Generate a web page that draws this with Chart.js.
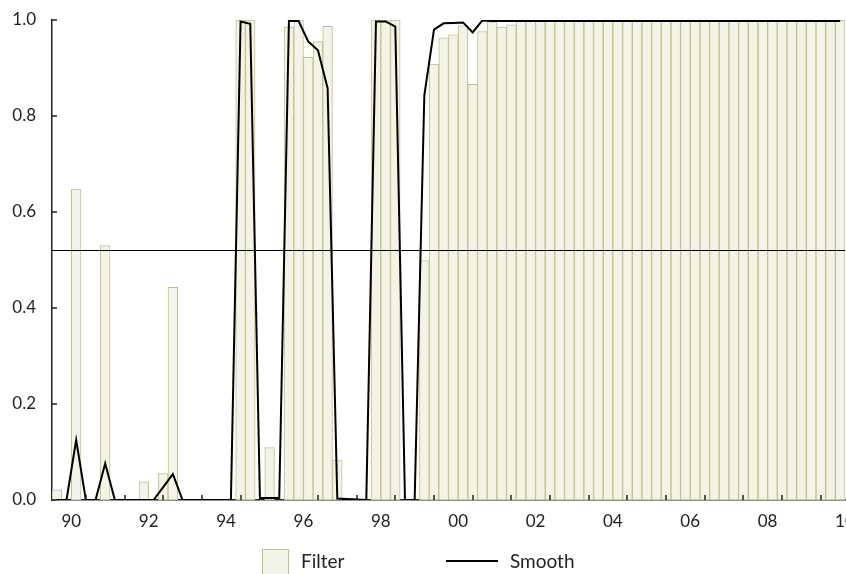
<!DOCTYPE html>
<html>
<head>
<meta charset="utf-8">
<script src="https://cdn.jsdelivr.net/npm/chart.js@4.4.1/dist/chart.umd.min.js"></script>
<style>
  html, body { margin: 0; padding: 0; background: #fff; }
  #wrap { width: 846px; height: 574px; }
</style>
</head>
<body>
<div id="wrap"><canvas id="chart"></canvas></div>
<script>
// quarterly observations 1990Q1 .. 2010Q2
const startYear = 1990;
const quarterCount = 82;
const yearLabels = ["90", "92", "94", "96", "98", "00", "02", "04", "06", "08", "10"];
const yTicks = [0, 0.2, 0.4, 0.6, 0.8, 1.0];
const threshold = 0.52;

const filterValues = [
  0.021, 0, 0.648, 0, 0, 0.53, 0, 0,
  0, 0.038, 0, 0.055, 0.443, 0, 0, 0,
  0, 0, 0, 1.0, 1.0, 0, 0.109, 0,
  0.985, 1.0, 0.922, 0.955, 0.987, 0.083, 0, 0,
  0, 1.0, 1.0, 1.0, 0, 0, 0.499, 0.908,
  0.963, 0.969, 0.988, 0.866, 0.976, 0.996, 0.985, 0.990,
  1.0, 1.0, 1.0, 1.0, 1.0, 1.0, 1.0, 1.0,
  1.0, 1.0, 1.0, 1.0, 1.0, 1.0, 1.0, 1.0,
  1.0, 1.0, 1.0, 1.0, 1.0, 1.0, 1.0, 1.0,
  1.0, 1.0, 1.0, 1.0, 1.0, 1.0, 1.0, 1.0,
  1.0, 1.0
];

const smoothValues = [
  0, 0, 0.125, 0, 0, 0.076, 0, 0,
  0, 0, 0, 0.027, 0.054, 0, 0, 0,
  0, 0, 0, 0.997, 0.992, 0.004, 0.004, 0.004,
  0.998, 0.998, 0.955, 0.937, 0.858, 0.003, 0.002, 0.001,
  0, 0.997, 0.997, 0.986, 0, 0, 0.843, 0.98,
  0.993, 0.994, 0.995, 0.974, 0.999, 0.998, 0.998, 0.998,
  0.998, 0.998, 0.998, 0.998, 0.998, 0.998, 0.998, 0.998,
  0.998, 0.998, 0.998, 0.998, 0.998, 0.998, 0.998, 0.998,
  0.998, 0.998, 0.998, 0.998, 0.998, 0.998, 0.998, 0.998,
  0.998, 0.998, 0.998, 0.998, 0.998, 0.998, 0.998, 0.998,
  0.998, 0.998
];

const quarters = [];
for (let i = 0; i < quarterCount; i++) {
  quarters.push(startYear + Math.floor(i / 4) + "Q" + (i % 4 + 1));
}

const barFill = "#f3f3e8";
const barEdge = "#c2c286";
const fontFamily = "Lato, 'Open Sans', sans-serif";

// inward tick marks, the horizontal reference line and the legend
const decorations = {
  id: "decorations",
  afterDatasetsDraw(chart) {
    const { ctx, chartArea, scales } = chart;
    const x = scales.x, y = scales.y;
    ctx.save();
    ctx.strokeStyle = "#000";
    ctx.lineWidth = 1;
    const ty = Math.round(y.getPixelForValue(threshold)) + 0.5;
    ctx.beginPath();
    ctx.moveTo(chartArea.left, ty);
    ctx.lineTo(chartArea.right, ty);
    ctx.stroke();

    ctx.strokeStyle = "#222";
    ctx.lineWidth = 1.5;
    ctx.beginPath();
    yTicks.forEach((v) => {
      const py = Math.round(y.getPixelForValue(v));
      ctx.moveTo(chartArea.left, py);
      ctx.lineTo(chartArea.left + 5, py);
    });
    for (let i = 3; i < quarterCount; i += 4) {
      const px = Math.round(x.getPixelForValue(i));
      ctx.moveTo(px, chartArea.bottom);
      ctx.lineTo(px, chartArea.bottom - 5);
    }
    ctx.stroke();
    ctx.restore();
  },
  afterDraw(chart) {
    const ctx = chart.ctx;
    const cx = chart.width / 2;
    const ly = 561;
    ctx.save();
    ctx.fillStyle = barFill;
    ctx.strokeStyle = barEdge;
    ctx.lineWidth = 1;
    ctx.fillRect(cx - 161, ly - 12, 27, 26);
    ctx.strokeRect(cx - 160.5, ly - 11.5, 26, 25);
    ctx.fillStyle = "#222";
    ctx.font = "19px " + fontFamily;
    ctx.textBaseline = "middle";
    ctx.fillText("Filter", cx - 122, ly + 1);
    ctx.strokeStyle = "#000";
    ctx.lineWidth = 2;
    ctx.beginPath();
    ctx.moveTo(cx + 23, ly);
    ctx.lineTo(cx + 75, ly);
    ctx.stroke();
    ctx.fillText("Smooth", cx + 87, ly + 1);
    ctx.restore();
  }
};

new Chart(document.getElementById("chart"), {
  type: "bar",
  data: {
    labels: quarters,
    datasets: [
      {
        type: "line",
        label: "Smooth",
        data: smoothValues,
        borderColor: "#000",
        borderWidth: 2,
        pointRadius: 0,
        tension: 0,
        order: 0,
      },
      {
        label: "Filter",
        data: filterValues,
        backgroundColor: barFill,
        borderColor: barEdge,
        borderWidth: 1,
        borderSkipped: false,
        barPercentage: 1,
        categoryPercentage: 1,
        order: 1,
      },
    ],
  },
  options: {
    responsive: true,
    maintainAspectRatio: false,
    animation: false,
    layout: { padding: { left: 0, right: 1, top: 20, bottom: 40 } },
    plugins: {
      legend: { display: false },
      tooltip: { enabled: false },
    },
    scales: {
      x: {
        offset: true,
        grid: { display: false, drawTicks: false },
        border: { display: true, color: "#222", width: 1.5 },
        ticks: {
          autoSkip: false,
          maxRotation: 0,
          minRotation: 0,
          padding: 11,
          labelOffset: 4.8,
          color: "#222",
          font: { family: fontFamily, size: 17 },
          callback: (value, index) => (index % 8 === 1 ? yearLabels[(index - 1) / 8] : ""),
        },
        afterFit: (scale) => {
          scale.height = 34;
          scale.paddingLeft = 0;
          scale.paddingRight = 0;
        },
      },
      y: {
        min: 0,
        max: 1,
        grid: { display: false, drawTicks: false },
        border: { display: true, color: "#222", width: 1.5 },
        ticks: {
          stepSize: 0.2,
          padding: 16,
          color: "#222",
          font: { family: fontFamily, size: 17 },
          callback: (value) => value.toFixed(1),
        },
        afterFit: (scale) => {
          scale.width = 52;
          scale.paddingTop = 0;
          scale.paddingBottom = 0;
        },
      },
    },
  },
  plugins: [decorations],
});
</script>
</body>
</html>
